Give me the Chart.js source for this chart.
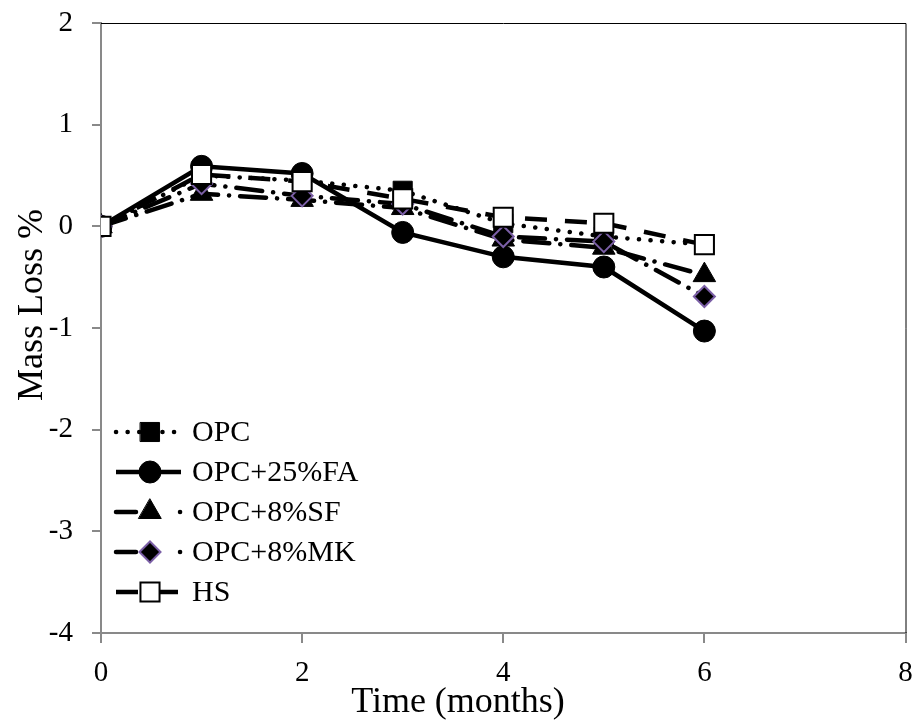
<!DOCTYPE html>
<html>
<head>
<meta charset="utf-8">
<title>Mass Loss</title>
<script src="https://cdn.jsdelivr.net/npm/chart.js@4.4.1/dist/chart.umd.min.js"></script>
<style>
  body { margin: 0; background: #fff; }
  #wrap { width: 921px; height: 720px; }
</style>
</head>
<body>
<div id="wrap"><canvas id="massChart" width="921" height="720"></canvas></div>
<script>
// exposure time in months and mass loss (%) for each mix
const months = [0, 1, 2, 3, 4, 5, 6];
const opc   = [0, 0.50, 0.45, 0.35, 0.03, -0.10, -0.18];
const opcFA = [0, 0.59, 0.52, -0.06, -0.30, -0.40, -1.03];
const opcSF = [0, 0.32, 0.26, 0.18, -0.13, -0.21, -0.48];
const opcMK = [0, 0.42, 0.30, 0.22, -0.10, -0.15, -0.69];
const hs    = [0, 0.51, 0.44, 0.27, 0.09, 0.03, -0.18];

const xTicks = [0, 2, 4, 6, 8];
const yTicks = [-4, -3, -2, -1, 0, 1, 2];

const serif = '"Liberation Serif", "Times New Roman", serif';
const axisGray = '#898989';

const toPoints = vals => vals.map((v, i) => ({ x: months[i], y: v }));

function series(label, vals, style) {
  return Object.assign({
    label: label,
    data: toPoints(vals),
    borderColor: '#000',
    borderWidth: 4.5,
    borderDash: [],
    borderCapStyle: 'butt',
    pointBackgroundColor: '#000',
    pointBorderColor: '#000',
    pointBorderWidth: 1,
    tension: 0,
    fill: false
  }, style);
}

const datasets = [
  series('OPC', opc, { borderDash: [0.1, 11.5], borderCapStyle: 'round', pointStyle: 'rect', pointRadius: 13.5, order: 5 }),
  series('OPC+25%FA', opcFA, { pointStyle: 'circle', pointRadius: 11, order: 4 }),
  series('OPC+8%SF', opcSF, { borderDash: [26, 11, 0.1, 11], borderCapStyle: 'round', pointStyle: 'triangle', pointRadius: 13, order: 3 }),
  series('OPC+8%MK', opcMK, { borderDash: [26, 11, 0.1, 11], borderCapStyle: 'round', pointStyle: 'rectRot', pointRadius: 10.5,
    pointBorderColor: '#7b5fa6', pointBorderWidth: 2, order: 2 }),
  series('HS', hs, { borderDash: [22, 18], pointStyle: 'rect', pointRadius: 13.5, pointBackgroundColor: '#fff', pointBorderWidth: 2, order: 1 })
];

// short legend samples: dash, marker, then a single dot for the dash-dot lines
const legendDash = {
  'OPC+8%SF': [20, 44, 0.1, 100],
  'OPC+8%MK': [20, 44, 0.1, 100]
};

// black frame on the top and right of the plot area
const plotFrame = {
  id: 'plotFrame',
  beforeDatasetsDraw(chart) {
    const { ctx, chartArea: a } = chart;
    ctx.save();
    ctx.strokeStyle = '#000';
    ctx.lineWidth = 1;
    ctx.beginPath();
    ctx.moveTo(a.left, a.top + 0.5);
    ctx.lineTo(a.right + 0.5, a.top + 0.5);
    ctx.lineTo(a.right + 0.5, a.bottom);
    ctx.stroke();
    ctx.restore();
  }
};

// axis titles
const axisTitles = {
  id: 'axisTitles',
  afterDraw(chart) {
    const ctx = chart.ctx;
    ctx.save();
    ctx.fillStyle = '#000';
    ctx.font = '36px ' + serif;
    ctx.textAlign = 'center';
    ctx.textBaseline = 'alphabetic';
    ctx.fillText('Time (months)', 458, 712);
    ctx.translate(42, 305);
    ctx.rotate(-Math.PI / 2);
    ctx.fillText('Mass Loss %', 0, 0);
    ctx.restore();
  }
};

// legend inside the plot, lower left: line sample, marker, name
const legendBox = { x0: 116, x1: 181, marker: 150, text: 192, top: 432, step: 40 };
const insideLegend = {
  id: 'insideLegend',
  afterDraw(chart) {
    const ctx = chart.ctx;
    chart.data.datasets.forEach((ds, i) => {
      const y = legendBox.top + i * legendBox.step;
      ctx.save();
      ctx.strokeStyle = ds.borderColor;
      ctx.lineWidth = ds.borderWidth;
      ctx.lineCap = ds.borderCapStyle;
      ctx.setLineDash(legendDash[ds.label] || ds.borderDash);
      ctx.beginPath();
      ctx.moveTo(legendBox.x0, y);
      ctx.lineTo(legendBox.x1, y);
      ctx.stroke();
      ctx.setLineDash([]);
      ctx.fillStyle = ds.pointBackgroundColor;
      ctx.strokeStyle = ds.pointBorderColor;
      ctx.lineWidth = ds.pointBorderWidth;
      Chart.helpers.drawPoint(ctx, {
        pointStyle: ds.pointStyle, radius: ds.pointRadius, rotation: 0, borderWidth: ds.pointBorderWidth
      }, legendBox.marker, y);
      ctx.fillStyle = '#000';
      ctx.font = '30px ' + serif;
      ctx.textAlign = 'left';
      ctx.textBaseline = 'middle';
      ctx.fillText(ds.label, legendBox.text, y + 1);
      ctx.restore();
    });
  }
};

new Chart(document.getElementById('massChart'), {
  type: 'line',
  data: { datasets: datasets },
  plugins: [plotFrame, axisTitles, insideLegend],
  options: {
    responsive: false,
    animation: false,
    events: [],
    layout: { padding: { top: 23, right: 12, left: 0, bottom: 0 } },
    plugins: { legend: { display: false }, tooltip: { enabled: false } },
    scales: {
      x: {
        type: 'linear',
        min: xTicks[0],
        max: xTicks[xTicks.length - 1],
        afterBuildTicks: s => { s.ticks = xTicks.map(v => ({ value: v })); },
        afterFit: s => { s.height = 87; s.paddingLeft = 0; s.paddingRight = 0; },
        grid: { drawOnChartArea: false, drawTicks: true, tickLength: 10, color: axisGray, lineWidth: 2 },
        border: { display: true, color: axisGray, width: 2 },
        ticks: { color: '#000', font: { family: serif, size: 29 }, padding: 13, maxRotation: 0 }
      },
      y: {
        type: 'linear',
        min: yTicks[0],
        max: yTicks[yTicks.length - 1],
        afterBuildTicks: s => { s.ticks = yTicks.map(v => ({ value: v })); },
        afterFit: s => { s.width = 101; s.paddingTop = 0; s.paddingBottom = 0; },
        grid: { drawOnChartArea: false, drawTicks: true, tickLength: 9, color: axisGray, lineWidth: 2 },
        border: { display: true, color: axisGray, width: 2 },
        ticks: { color: '#000', font: { family: serif, size: 29 }, padding: 19 }
      }
    }
  }
});
</script>
</body>
</html>
